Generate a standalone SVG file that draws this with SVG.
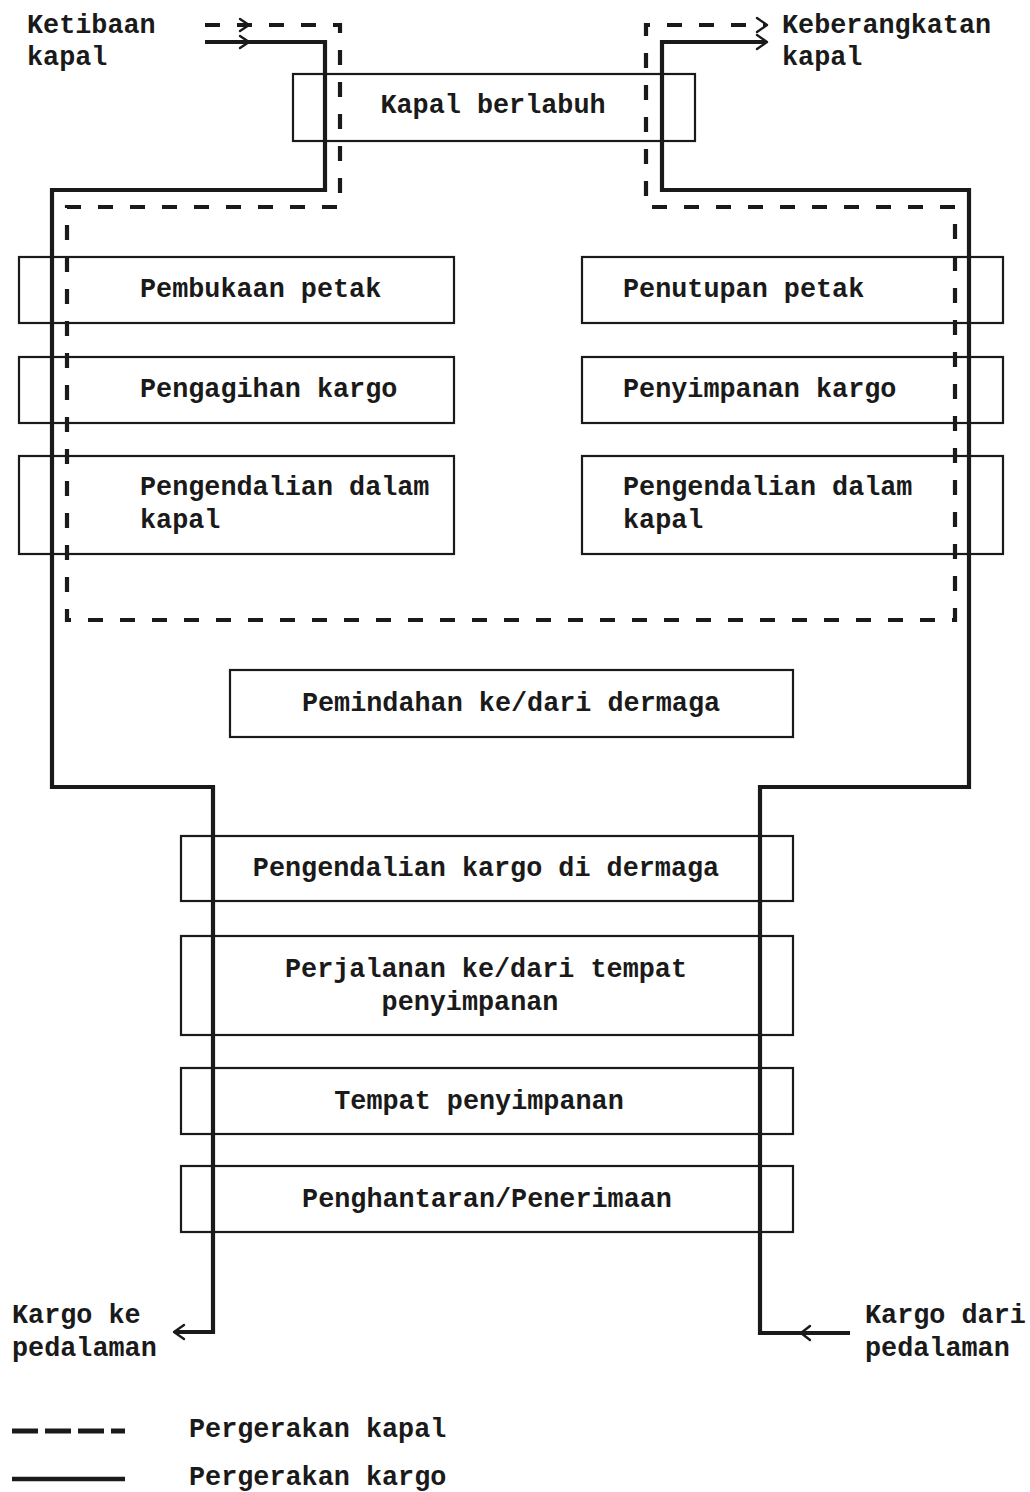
<svg xmlns="http://www.w3.org/2000/svg" width="1030" height="1492" viewBox="0 0 1030 1492">
<style>
.bg{fill:#fff}
.box{fill:none;stroke:#1a1a1a;stroke-width:2.2}
.t{font-family:"Liberation Mono","DejaVu Sans Mono",monospace;font-weight:bold;font-size:26.8px;fill:#1a1a1a}
.c{text-anchor:middle}
.cargo{fill:none;stroke:#1a1a1a;stroke-width:4.2;stroke-linejoin:miter}
.ship{fill:none;stroke:#1a1a1a;stroke-width:4.2;stroke-dasharray:15 17;stroke-linecap:butt}
.head{fill:none;stroke:#1a1a1a;stroke-width:2.4;stroke-linecap:round;stroke-linejoin:round}
</style>
<rect class="bg" x="0" y="0" width="1030" height="1492"/>
<g id="nodes">
<g id="kapal-berlabuh"><rect class="box" x="293" y="74" width="402" height="67"/><text class="t c" x="493" y="113">Kapal berlabuh</text></g>
<g id="pembukaan-petak"><rect class="box" x="19" y="257" width="435" height="66"/><text class="t" x="140" y="297">Pembukaan petak</text></g>
<g id="pengagihan-kargo"><rect class="box" x="19" y="357" width="435" height="66"/><text class="t" x="140" y="397">Pengagihan kargo</text></g>
<g id="pengendalian-kiri"><rect class="box" x="19" y="456" width="435" height="98"/><text class="t" x="140" y="495">Pengendalian dalam</text><text class="t" x="140" y="528">kapal</text></g>
<g id="penutupan-petak"><rect class="box" x="582" y="257" width="421" height="66"/><text class="t" x="623" y="297">Penutupan petak</text></g>
<g id="penyimpanan-kargo"><rect class="box" x="582" y="357" width="421" height="66"/><text class="t" x="623" y="397">Penyimpanan kargo</text></g>
<g id="pengendalian-kanan"><rect class="box" x="582" y="456" width="421" height="98"/><text class="t" x="623" y="495">Pengendalian dalam</text><text class="t" x="623" y="528">kapal</text></g>
<g id="pemindahan"><rect class="box" x="230" y="670" width="563" height="67"/><text class="t c" x="511" y="711">Pemindahan ke/dari dermaga</text></g>
<g id="pengendalian-dermaga"><rect class="box" x="181" y="836" width="612" height="65"/><text class="t c" x="486" y="876">Pengendalian kargo di dermaga</text></g>
<g id="perjalanan"><rect class="box" x="181" y="936" width="612" height="99"/><text class="t c" x="486" y="977">Perjalanan ke/dari tempat</text><text class="t c" x="470" y="1010">penyimpanan</text></g>
<g id="tempat-penyimpanan"><rect class="box" x="181" y="1068" width="612" height="66"/><text class="t c" x="479" y="1109">Tempat penyimpanan</text></g>
<g id="penghantaran"><rect class="box" x="181" y="1166" width="612" height="66"/><text class="t c" x="487" y="1207">Penghantaran/Penerimaan</text></g>
<g id="ketibaan"><text class="t" x="27" y="33">Ketibaan</text><text class="t" x="27" y="65">kapal</text></g>
<g id="keberangkatan"><text class="t" x="782" y="33">Keberangkatan</text><text class="t" x="782" y="65">kapal</text></g>
<g id="kargo-ke"><text class="t" x="12" y="1323">Kargo ke</text><text class="t" x="12" y="1356">pedalaman</text></g>
<g id="kargo-dari"><text class="t" x="865" y="1323">Kargo dari</text><text class="t" x="865" y="1356">pedalaman</text></g>
</g>
<g id="connectors">
<path class="ship" d="M205,25 H340 V207 H67 V620 H955 V207 H646 V25 H765"/>
<path class="cargo" d="M205,42 H325 V190 H52 V787 H213 V1332 H176"/>
<path class="cargo" d="M850,1333 H760 V787 H969 V190 H662 V42 H765"/>
<path class="head" d="M240,19 L249,25 L240,31"/>
<path class="head" d="M240,36 L249,42 L240,48"/>
<path class="head" d="M757,18 L767,25 L757,32"/>
<path class="head" d="M757,35 L767,42 L757,49"/>
<path class="head" d="M184,1325 L174,1332 L184,1339"/>
<path class="head" d="M810,1326 L801,1333 L810,1340"/>
</g>
<g id="legend">
<path d="M12,1431 H125" fill="none" stroke="#1a1a1a" stroke-width="5" stroke-dasharray="26 7"/>
<text class="t" x="189" y="1437">Pergerakan kapal</text>
<path d="M12,1479 H125" fill="none" stroke="#1a1a1a" stroke-width="4.5"/>
<text class="t" x="189" y="1485">Pergerakan kargo</text>
</g>
</svg>
